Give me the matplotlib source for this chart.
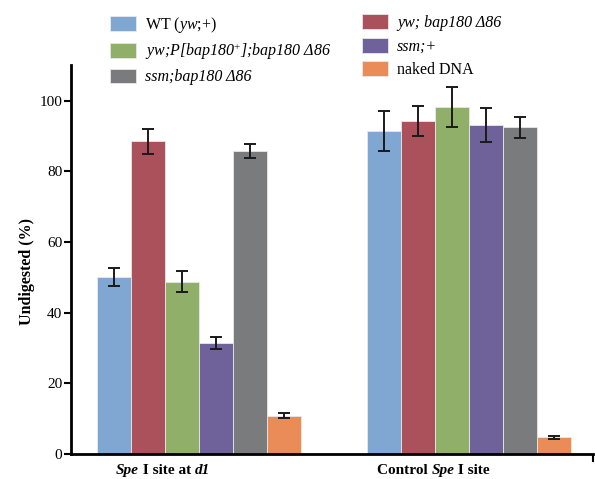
import numpy as np
import matplotlib
matplotlib.use("Agg")
import matplotlib.pyplot as plt
from matplotlib.patches import Patch
from matplotlib.offsetbox import TextArea, HPacker, AnnotationBbox

plt.rcParams["font.family"] = ["Liberation Serif", "DejaVu Serif"]
plt.rcParams["mathtext.fontset"] = "custom"
plt.rcParams["mathtext.rm"] = "Liberation Serif"
plt.rcParams["mathtext.it"] = "Liberation Serif:italic"
plt.rcParams["mathtext.bf"] = "Liberation Serif:bold"

# ── data ───────────────────────────────────────────────────────────────────────
# group labels as (text, italic) pieces
groups = [[("Spe", True), (" I site at ", False), ("d1", True)],
          [("Control ", False), ("Spe", True), (" I site", False)]]
series = [r"WT ($\mathit{yw}$;+)",
          "yw; bap180 \u039486",
          "yw;P[bap180$^{+}$];bap180 \u039486",
          "ssm;+",
          "ssm;bap180 \u039486",
          "naked DNA"]
series_italic = [False, True, True, True, True, False]
colors = ["#80a7d2", "#ab515b", "#90b06a", "#6f6199", "#7a7b7d", "#ea8c58"]

site_d1 = [50.0, 88.5, 48.8, 31.4, 85.6, 10.9]
site_d1_err = [2.6, 3.5, 2.9, 1.8, 2.0, 0.7]
control = [91.4, 94.3, 98.2, 93.2, 92.4, 4.8]
control_err = [5.6, 4.2, 5.6, 4.8, 3.0, 0.4]

values = [site_d1, control]
errors = [site_d1_err, control_err]

# ── plot ───────────────────────────────────────────────────────────────────────
fig = plt.figure(figsize=(5.95, 4.79), dpi=100)
ax = fig.add_axes([0.119, 0.052, 0.878, 0.812])

group_x = [0.0, 7.94]
handles = []
for g, gx in enumerate(group_x):
    for i in range(len(series)):
        ax.bar(gx + i, values[g][i], width=1.0, color=colors[i],
               edgecolor="#e8e8e8", linewidth=0.6,
               yerr=errors[g][i], capsize=4.5,
               error_kw=dict(ecolor="#1a1a1a", elinewidth=1.4, capthick=1.4))
        if g == 0:
            handles.append(Patch(facecolor=colors[i], edgecolor="#e8e8e8",
                                 linewidth=0.6))

ax.set_xlim(-1.265, 14.09)
ax.set_ylim(0, 110)
ax.set_yticks(np.arange(0, 101, 20))
ax.tick_params(axis="y", labelsize=11, length=5, width=1.5, direction="out", pad=1)
ax.set_xticks([])
ax.set_xticks([14.09], minor=True)
ax.tick_params(axis="x", which="minor", length=6, width=1.5, direction="out",
               labelbottom=False)

# group labels with mixed bold / bold-italic pieces
for gx, pieces in zip(group_x, groups):
    parts = [TextArea(t, textprops=dict(fontsize=11, fontweight="bold",
                                        fontstyle="italic" if it else "normal"))
             for t, it in pieces]
    box = HPacker(children=parts, pad=0, sep=0, align="baseline")
    ab = AnnotationBbox(box, (gx + 1.45, 0), xycoords=("data", "axes fraction"),
                        xybox=(0, -7), boxcoords="offset points",
                        box_alignment=(0.5, 1), frameon=False, pad=0)
    ax.add_artist(ab)

for s in ["top", "right"]:
    ax.spines[s].set_visible(False)
for s in ["left", "bottom"]:
    ax.spines[s].set_linewidth(2)

ax.set_ylabel("Undigested (%)", fontsize=11.5, fontweight="bold")
ax.yaxis.set_label_coords(-0.068, 0.47)

order_left = [0, 2, 4]
order_right = [1, 3, 5]
for order, anchor, spacing in [(order_left, (0.172, 0.985), 0.4),
                               (order_right, (0.595, 0.987), 0.42)]:
    leg = fig.legend([handles[i] for i in order], [series[i] for i in order],
                     loc="upper left", bbox_to_anchor=anchor,
                     frameon=False, fontsize=11.5, handlelength=1.6,
                     handleheight=1.05, labelspacing=spacing, borderpad=0,
                     handletextpad=0.6)
    for txt, i in zip(leg.get_texts(), order):
        if series_italic[i]:
            txt.set_fontstyle("italic")

fig.savefig("out.png", dpi=100)
